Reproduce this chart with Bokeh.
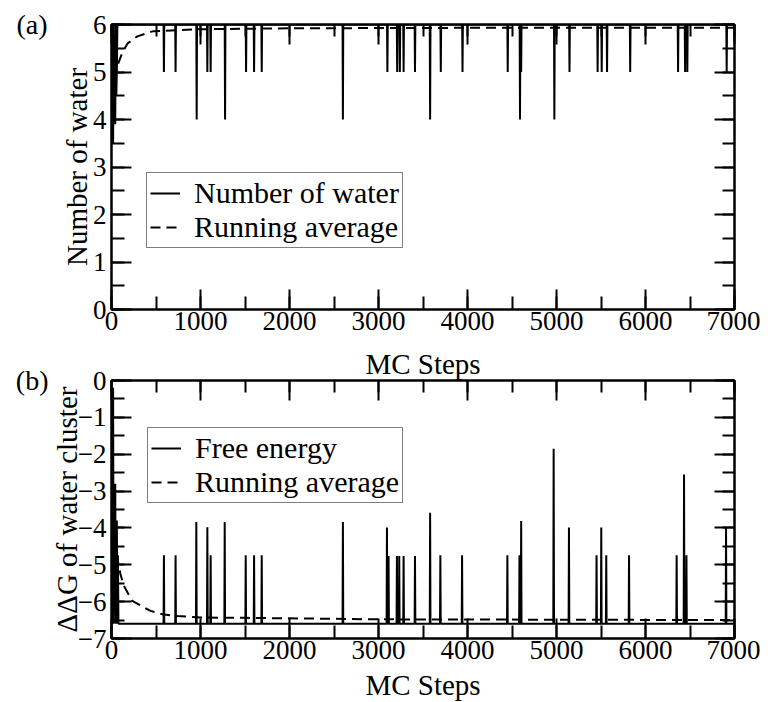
from bokeh.plotting import figure
from bokeh.layouts import column
from bokeh.models import (Range1d, LinearAxis, SingleIntervalTicker, FixedTicker,
                          Legend, LegendItem)
from bokeh.embed import file_html
from bokeh.resources import INLINE

FONT = "Liberation Serif"
MAX_STEP = 7000

# ---------------- Panel (a): number of water ----------------
a_start_steps = [0, 10, 18, 24, 30, 36, 42, 48, 54, 60, 66, 72]
a_start_water = [6, 6, 3.5, 6, 4, 5, 3.9, 6, 4.5, 5, 6, 6]
a_baseline = 6
a_spike_steps = [589, 720, 957, 1077, 1114, 1276, 1512, 1602, 1688, 2600,
                 3100, 3210, 3240, 3282, 3410, 3580, 3700, 3944, 4452, 4590,
                 4603, 4976, 5146, 5462, 5508, 5568, 5828, 6366, 6445, 6470,
                 6912]
a_spike_water = [5, 5, 4, 5, 5, 4, 5, 5, 5, 4,
                 5, 5, 5, 5, 5, 4, 5, 5, 5, 4,
                 5, 4, 5, 5, 5, 5, 5, 5, 5, 5,
                 5]
a_avg_steps = [0, 30, 60, 120, 180, 290, 470, 1000, 2000, 4000, 7000]
a_avg_water = [3.5, 4.6, 5.1, 5.4, 5.6, 5.75, 5.86, 5.9, 5.92, 5.93, 5.93]

# ---------------- Panel (b): free energy ----------------
b_start_steps = [0, 10, 18, 24, 30, 36, 42, 48, 54, 60, 66, 72, 78, 84]
b_start_dg = [-6.6, -6.6, -0.2, -6.6, -3.1, -4.0, -2.8, -6.6, -4.8, -3.8,
              -6.6, -4.74, -6.6, -6.6]
b_baseline = -6.6
b_spike_steps = [589, 720, 953, 1077, 1114, 1272, 1508, 1602, 1688, 2600,
                 3095, 3113, 3207, 3233, 3282, 3410, 3580, 3695, 3939, 4448,
                 4584, 4603, 4968, 5140, 5450, 5503, 5559, 5815, 6350, 6433,
                 6460, 6905]
b_spike_dg = [-4.74, -4.74, -3.84, -3.98, -4.74, -3.84, -4.74, -4.74, -4.74, -3.84,
              -3.99, -4.76, -4.76, -4.76, -4.76, -4.76, -3.59, -4.74, -4.74, -4.74,
              -4.74, -3.81, -1.85, -3.99, -4.74, -3.99, -4.74, -4.74, -4.74, -2.55,
              -4.74, -3.99]
b_avg_steps = [0, 20, 45, 64, 100, 139, 233, 439, 570, 739, 1000, 1500, 3000,
               5000, 7000]
b_avg_dg = [-3.0, -3.5, -3.95, -4.8, -5.25, -5.57, -5.98, -6.25, -6.34, -6.39,
            -6.43, -6.44, -6.48, -6.49, -6.5]

panel_tags = ["(a)", "(b)"]


def spike_trace(start_steps, start_vals, base, steps, vals, end, half=4):
    xs = list(start_steps)
    ys = list(start_vals)
    for s, v in zip(steps, vals):
        xs += [s - half, s, s + half]
        ys += [base, v, base]
    xs.append(end)
    ys.append(base)
    return xs, ys


def make_fig(y0, y1, frame_h, ylabel, top_border, label_standoff, tag,
             tag_standoff, ylabel_standoff):
    p = figure(frame_width=623, frame_height=frame_h,
               x_range=Range1d(0, MAX_STEP), y_range=Range1d(y0, y1),
               output_backend="svg", toolbar_location=None,
               min_border_left=111, min_border_right=26,
               min_border_top=top_border, min_border_bottom=30)
    p.grid.visible = False
    p.background_fill_color = "white"
    p.outline_line_color = "black"
    p.outline_line_width = 2

    p.xaxis.ticker = SingleIntervalTicker(interval=1000, num_minor_ticks=2)
    p.yaxis.ticker = SingleIntervalTicker(interval=1, num_minor_ticks=2)
    for ax in (p.xaxis[0], p.yaxis[0]):
        ax.axis_line_color = "black"
        ax.axis_line_width = 2
        ax.major_tick_in = 20
        ax.major_tick_out = 0
        ax.minor_tick_in = 13
        ax.minor_tick_out = 0
        ax.major_tick_line_width = 2
        ax.minor_tick_line_width = 2
        ax.major_label_text_font = FONT
        ax.major_label_text_font_size = "27px"
        ax.major_label_text_color = "black"
        ax.axis_label_text_font = FONT
        ax.axis_label_text_font_size = "29px"
        ax.axis_label_text_font_style = "normal"
        ax.axis_label_text_color = "black"
    p.xaxis.axis_label = "MC Steps"
    p.xaxis.major_label_standoff = 2
    p.xaxis.axis_label_standoff = label_standoff
    p.yaxis.axis_label = ylabel
    p.yaxis.major_label_standoff = 5
    p.yaxis.axis_label_standoff = ylabel_standoff

    right = LinearAxis(ticker=SingleIntervalTicker(interval=1, num_minor_ticks=2))
    top = LinearAxis(ticker=SingleIntervalTicker(interval=1000, num_minor_ticks=2))
    for ax in (right, top):
        ax.axis_line_color = "black"
        ax.axis_line_width = 2
        ax.major_tick_in = 20
        ax.major_tick_out = 0
        ax.minor_tick_in = 12
        ax.minor_tick_out = 0
        ax.major_tick_line_width = 2
        ax.minor_tick_line_width = 2
        ax.major_label_text_font_size = "9px"
        ax.major_label_text_color = None
        ax.major_label_standoff = 0
    p.add_layout(right, "right")
    p.add_layout(top, "above")

    # panel tag "(a)" / "(b)" carried by a tick-less outer left axis
    tag_axis = LinearAxis(ticker=FixedTicker(ticks=[]), axis_label=tag)
    tag_axis.axis_line_color = None
    tag_axis.major_tick_line_color = None
    tag_axis.minor_tick_line_color = None
    tag_axis.major_label_text_font_size = "9px"
    tag_axis.major_label_text_color = None
    tag_axis.major_label_standoff = 0
    tag_axis.axis_label_text_font = FONT
    tag_axis.axis_label_text_font_size = "28px"
    tag_axis.axis_label_text_font_style = "normal"
    tag_axis.axis_label_text_color = "black"
    tag_axis.axis_label_orientation = "horizontal"
    tag_axis.axis_label_align = "end"
    tag_axis.axis_label_standoff = tag_standoff
    p.add_layout(tag_axis, "left")
    return p


def add_legend(p, items, loc):
    lg = Legend(items=items, location=loc)
    lg.label_text_font = FONT
    lg.label_text_font_size = "30px"
    lg.label_text_line_height = 0.95
    lg.label_text_color = "black"
    lg.border_line_color = "black"
    lg.border_line_width = 1.5
    lg.padding = 3
    lg.spacing = 0
    lg.margin = 0
    lg.glyph_width = 30
    lg.label_standoff = 14
    lg.background_fill_alpha = 1.0
    p.add_layout(lg)


# ---- figure (a)
pa = make_fig(0, 6, 285, "Number of water", 24, 15, panel_tags[0], 10, -3)
xa, ya = spike_trace(a_start_steps, a_start_water, a_baseline,
                     a_spike_steps, a_spike_water, MAX_STEP)
ra1 = pa.line(xa, ya, line_color="black", line_width=2)
ra2 = pa.line(a_avg_steps, a_avg_water, line_color="black", line_width=2,
              line_dash="10 6")
add_legend(pa, [LegendItem(label="Number of water", renderers=[ra1]),
                LegendItem(label="Running average", renderers=[ra2])], (35, 61))

# ---- figure (b)
pb = make_fig(-7, 0, 258, "ΔΔG of water cluster", 20, 7, panel_tags[1], -1, -8)
pb.border_fill_alpha = 0
pb.margin = (-22, 0, -4, 0)
xb, yb = spike_trace(b_start_steps, b_start_dg, b_baseline,
                     b_spike_steps, b_spike_dg, MAX_STEP)
rb1 = pb.line(xb, yb, line_color="black", line_width=2)
rb2 = pb.line(b_avg_steps, b_avg_dg, line_color="black", line_width=2,
              line_dash="10 6")
add_legend(pb, [LegendItem(label="Free energy", renderers=[rb1]),
                LegendItem(label="Running average", renderers=[rb2])], (36, 135))

layout = column(pa, pb)
open("out.html", "w").write(file_html(layout, INLINE))
